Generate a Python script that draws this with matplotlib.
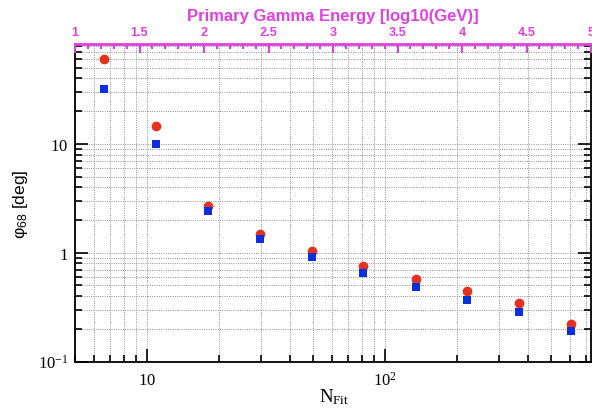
import numpy as np
import matplotlib
matplotlib.use("Agg")
import matplotlib.pyplot as plt
from matplotlib.ticker import LogLocator, FixedLocator, NullFormatter, FixedFormatter, MultipleLocator

plt.rcParams['mathtext.fontset'] = 'custom'
plt.rcParams['mathtext.rm'] = 'Liberation Serif'
plt.rcParams['mathtext.it'] = 'Liberation Serif:italic'
plt.rcParams['mathtext.sf'] = 'Liberation Sans'

# ---- data ----
n_fit = [6.62, 10.88, 18.1, 29.8, 49.2, 81.1, 134.6, 221.7, 366.0, 603.0]
phi68_red = [60.5, 14.7, 2.69, 1.50, 1.035, 0.759, 0.575, 0.442, 0.343, 0.221]
phi68_blue = [32.0, 10.0, 2.42, 1.335, 0.918, 0.648, 0.481, 0.365, 0.283, 0.189]

x_major = [10, 100]
x_major_labels = [r'$\mathrm{10}$', r'$\mathrm{10^{2}}$']
y_major = [0.1, 1, 10]
y_major_labels = [r'$\mathrm{10^{-1}}$', r'$\mathrm{1}$', r'$\mathrm{10}$']
top_ticks = [1, 1.5, 2, 2.5, 3, 3.5, 4, 4.5, 5]
top_labels = ['1', '1.5', '2', '2.5', '3', '3.5', '4', '4.5', '5']

MAG = '#e040e0'
RED = '#e5321f'
BLUE = '#0b2ee0'

W, H = 592, 412
fig = plt.figure(figsize=(W / 100, H / 100), dpi=100)
L, R, B, T = 75, 591, 361.5, 44
ax = fig.add_axes([L / W, 1 - B / H, (R - L) / W, (B - T) / H])

ax.set_xscale('log')
ax.set_yscale('log')
ax.set_xlim(4.98, 734)
ax.set_ylim(0.1, 83)

# grid (dotted) at major and minor ticks
ax.grid(True, which='both', color='0.5', linestyle=(0, (1, 1.5)), linewidth=0.65)
ax.set_axisbelow(True)

ax.plot(n_fit, phi68_red, 'o', color=RED, markersize=7.0, markeredgewidth=0, zorder=3, clip_on=False)
ax.plot(n_fit, phi68_blue, 's', color=BLUE, markersize=6.0, markeredgewidth=0, zorder=4, clip_on=False)

ax.xaxis.set_major_locator(FixedLocator(x_major))
ax.xaxis.set_major_formatter(FixedFormatter(x_major_labels))
ax.xaxis.set_minor_locator(LogLocator(base=10, subs=np.arange(2, 10)))
ax.xaxis.set_minor_formatter(NullFormatter())
ax.yaxis.set_major_locator(FixedLocator(y_major))
ax.yaxis.set_major_formatter(FixedFormatter(y_major_labels))
ax.yaxis.set_minor_locator(LogLocator(base=10, subs=np.arange(2, 10)))
ax.yaxis.set_minor_formatter(NullFormatter())

ax.tick_params(which='both', direction='in', top=False, right=True, color='black', width=1.2)
ax.tick_params(which='major', length=9.5)
ax.tick_params(which='minor', length=4.8)
ax.tick_params(axis='x', which='major', labelsize=12, pad=7)
ax.tick_params(axis='y', which='major', labelsize=12, pad=5)

for s in ['left', 'bottom', 'right']:
    ax.spines[s].set_linewidth(1.3)
    ax.spines[s].set_color('black')
ax.spines['top'].set_visible(False)

# top axis: primary gamma energy
ax2 = ax.twiny()
ax2.set_xlim(1, 5)
ax2.xaxis.set_major_locator(FixedLocator(top_ticks))
ax2.xaxis.set_major_formatter(FixedFormatter(top_labels))
ax2.xaxis.set_minor_locator(MultipleLocator(0.1))
ax2.tick_params(axis='x', which='both', direction='in', color=MAG, width=1.5,
                labelcolor=MAG, labelsize=9.2, pad=3.5)
ax2.tick_params(axis='x', which='major', length=6.5)
ax2.tick_params(axis='x', which='minor', length=3.6)
for lab in ax2.get_xticklabels():
    lab.set_fontweight('bold')
    lab.set_family('Liberation Sans')
ax2.spines['top'].set_color(MAG)
ax2.spines['top'].set_linewidth(2.0)
for s in ['left', 'bottom', 'right']:
    ax2.spines[s].set_visible(False)
ax2.set_xlabel('Primary Gamma Energy [log10(GeV)]', color=MAG, fontsize=12,
               fontweight='bold', family='Liberation Sans', labelpad=4.5)

# axis labels
fig.text(334 / W, 1 - 397 / H, r'$\mathrm{N}_{\mathrm{Fit}}$', fontsize=13.5,
         ha='center', va='center')
fig.text(20 / W, 1 - 204 / H, r'φ$_{\mathsf{68}}$ [deg]', fontsize=12.5,
         family='Liberation Sans', rotation=90, ha='center', va='center')

fig.savefig('out.png', dpi=100)
